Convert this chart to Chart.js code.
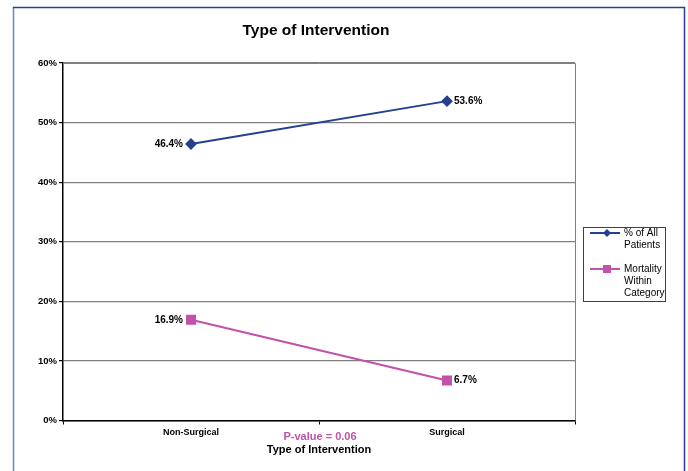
<!DOCTYPE html>
<html><head><meta charset="utf-8">
<script src="https://cdn.jsdelivr.net/npm/chart.js@4.4.0/dist/chart.umd.min.js"></script>
<style>html,body{margin:0;padding:0;background:#fff}#wrap{width:688px;height:471px;position:relative}</style>
</head><body><div id="wrap"><canvas id="c" width="688" height="471"></canvas></div>
<script>
const categories = ["Non-Surgical", "Surgical"];
const allPatients = [46.4, 53.6];
const mortality = [16.9, 6.7];
const yTicks = [0, 10, 20, 30, 40, 50, 60];
const seriesNames = [["% of All", "Patients"], ["Mortality", "Within", "Category"]];
const chartTitle = "Type of Intervention";
const xAxisTitle = "Type of Intervention";
const pValueText = "P-value = 0.06";

const FONT = "'Liberation Sans', Arial, sans-serif";
const BLUE = "#24408e";
const PINK = "#c052a9";

const extras = {
  id: 'extras',
  beforeDraw(chart) {
    const ctx = chart.ctx;
    ctx.save();
    ctx.fillStyle = '#fff';
    ctx.fillRect(0, 0, chart.width, chart.height);
    ctx.lineWidth = 1.5;
    ctx.strokeStyle = '#6f84c6';
    ctx.beginPath(); ctx.moveTo(13.5, 7); ctx.lineTo(13.5, 471); ctx.stroke();
    ctx.strokeStyle = '#2a3f92';
    ctx.beginPath(); ctx.moveTo(13, 7.5); ctx.lineTo(684.5, 7.5); ctx.lineTo(684.5, 471); ctx.stroke();
    ctx.restore();
  },
  beforeDatasetsDraw(chart) {
    const ctx = chart.ctx, a = chart.chartArea;
    ctx.save();
    ctx.strokeStyle = '#808080'; ctx.lineWidth = 1;
    ctx.beginPath();
    ctx.moveTo(a.left, a.top + 0.5); ctx.lineTo(a.right + 0.5, a.top + 0.5); ctx.lineTo(a.right + 0.5, a.bottom);
    ctx.stroke();
    ctx.restore();
  },
  afterDraw(chart) {
    const ctx = chart.ctx, a = chart.chartArea;
    ctx.save();
    ctx.textBaseline = 'middle';
    // main title
    ctx.font = "bold 15.5px " + FONT;
    ctx.fillStyle = '#000';
    ctx.textAlign = 'center';
    ctx.fillText(chartTitle, 316, 31);
    // x axis title
    ctx.font = "bold 11px " + FONT;
    ctx.fillText(xAxisTitle, (a.left + a.right) / 2, 450);
    // data labels
    ctx.font = "bold 10px " + FONT;
    chart.data.datasets.forEach((ds, di) => {
      const meta = chart.getDatasetMeta(di);
      meta.data.forEach((pt, i) => {
        const txt = ds.data[i].toFixed(1) + '%';
        if (i === 0) { ctx.textAlign = 'right'; ctx.fillText(txt, pt.x - 8, pt.y); }
        else { ctx.textAlign = 'left'; ctx.fillText(txt, pt.x + 7, pt.y); }
      });
    });
    // P-value
    ctx.font = "bold 11px " + FONT;
    ctx.fillStyle = PINK;
    ctx.textAlign = 'center';
    ctx.fillText(pValueText, (a.left + a.right) / 2 + 1, 437);
    // legend
    ctx.strokeStyle = '#404040'; ctx.lineWidth = 1;
    ctx.strokeRect(583.5, 227.5, 82, 74);
    ctx.font = "10px " + FONT;
    ctx.textAlign = 'left';
    const entries = [{c: BLUE, y: 233, style: 'diamond'}, {c: PINK, y: 269, style: 'square'}];
    entries.forEach((e, k) => {
      ctx.strokeStyle = e.c; ctx.lineWidth = 2;
      ctx.beginPath(); ctx.moveTo(590, e.y); ctx.lineTo(620, e.y); ctx.stroke();
      ctx.fillStyle = e.c;
      ctx.beginPath();
      if (e.style === 'diamond') {
        ctx.moveTo(607, e.y - 4); ctx.lineTo(611, e.y); ctx.lineTo(607, e.y + 4); ctx.lineTo(603, e.y);
        ctx.closePath(); ctx.fill();
      } else {
        ctx.fillRect(603, e.y - 4, 8, 8);
      }
      ctx.fillStyle = '#000';
      seriesNames[k].forEach((ln, j) => ctx.fillText(ln, 624, e.y + j * 12));
    });
    ctx.restore();
  }
};

new Chart(document.getElementById('c'), {
  type: 'line',
  data: {
    labels: categories,
    datasets: [
      { label: seriesNames[0].join(' '), data: allPatients, borderColor: BLUE, backgroundColor: BLUE,
        borderWidth: 2, pointStyle: 'rectRot', pointRadius: 4.5, pointHoverRadius: 4.5, tension: 0 },
      { label: seriesNames[1].join(' '), data: mortality, borderColor: PINK, backgroundColor: PINK,
        borderWidth: 2, pointStyle: 'rect', pointRadius: 5.7, pointHoverRadius: 5.7, tension: 0 }
    ]
  },
  options: {
    responsive: false, animation: false, devicePixelRatio: 1,
    layout: { padding: { left: 0, right: 113, top: 63, bottom: 0 } },
    plugins: {
      legend: { display: false },
      tooltip: { enabled: false },
      title: { display: false }
    },
    scales: {
      x: {
        type: 'category', offset: true,
        grid: { display: true, drawOnChartArea: false, drawTicks: true, tickLength: 4, color: '#000', offset: true },
        border: { color: '#000', width: 1.5 },
        ticks: { color: '#000', font: { family: FONT, size: 9, weight: 'bold' }, padding: 3, maxRotation: 0 },
        afterFit(s) { s.height = 50.5; }
      },
      y: {
        min: 0, max: 60,
        afterBuildTicks(s) { s.ticks = yTicks.map(v => ({ value: v })); },
        grid: { color: '#808080', lineWidth: 1.2, drawTicks: true, tickLength: 4, tickColor: '#000' },
        border: { color: '#000', width: 1.5 },
        ticks: { color: '#000', font: { family: FONT, size: 9.5, weight: 'bold' }, padding: 2,
          callback: v => v + '%' },
        afterFit(s) { s.width = 63; }
      }
    }
  },
  plugins: [extras]
});
</script></body></html>
